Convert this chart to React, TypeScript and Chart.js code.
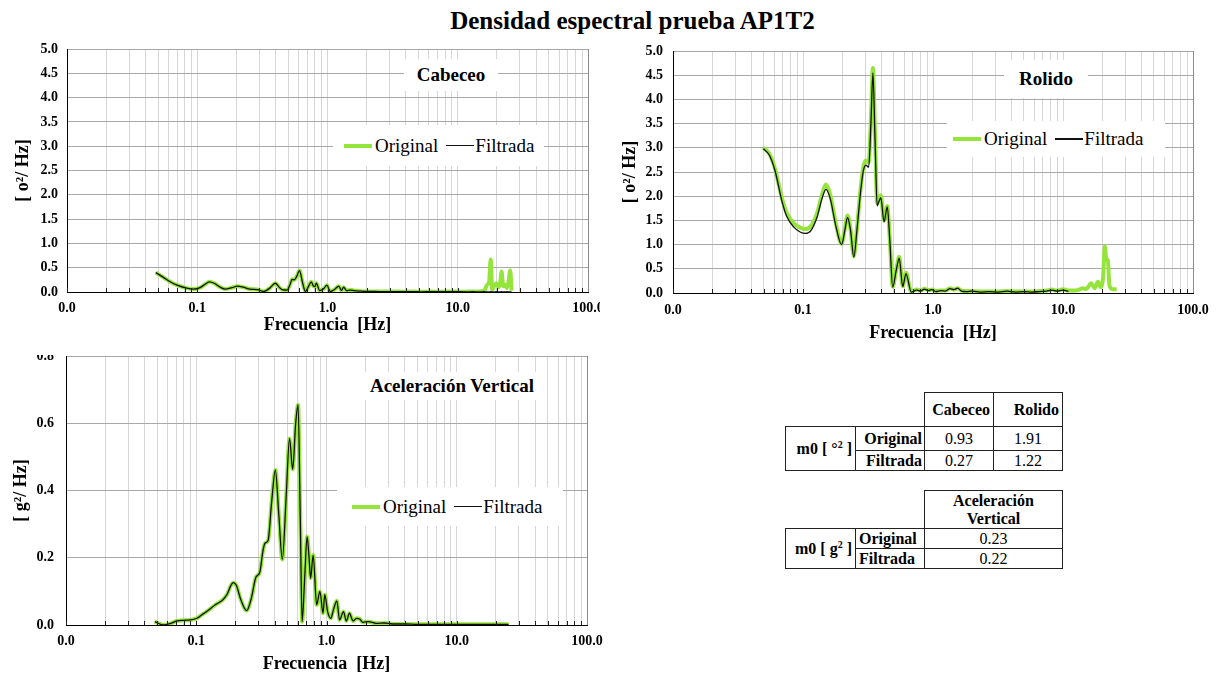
import React, { useEffect, useRef } from 'react';
import { Chart, registerables } from 'chart.js';

Chart.register(...registerables);

const SERIF = '"Liberation Serif", "Times New Roman", serif';
const GREEN = '#95e43c';
const BLACK = '#111111';

// ---------- X axis (log, 0.01 .. 100) ----------
const xDecades = [0.01, 0.1, 1, 10, 100];
const xDecadeLabels = ['0.0', '0.1', '1.0', '10.0', '100.0'];
const xMultipliers = [1, 2, 3, 4, 5, 6, 7, 8, 9];

// ---------- Cabeceo ----------
const cabFreq = [0.048, 0.055, 0.062, 0.07, 0.083, 0.094, 0.105, 0.115, 0.124, 0.135, 0.15, 0.164, 0.185, 0.204, 0.225, 0.255, 0.29, 0.324, 0.36, 0.398, 0.425, 0.448, 0.49, 0.515, 0.535, 0.556, 0.58, 0.61, 0.64, 0.677, 0.71, 0.75, 0.78, 0.8, 0.82, 0.87, 0.93, 0.99, 1.05, 1.13, 1.22, 1.28, 1.33, 1.4, 1.5, 1.6, 1.75, 2.0, 2.3, 2.7, 3.2, 3.8, 4.5, 5.3, 6.2, 7.3, 8.5, 10, 11.5, 13, 14.5, 16, 16.8, 17.4, 17.9, 18.4, 19, 19.8, 20.6, 21.2, 21.7, 22.3, 23, 23.8, 24.5, 25.3, 25.9];
const cabOriginal = [0.40, 0.30, 0.21, 0.14, 0.08, 0.06, 0.09, 0.16, 0.21, 0.18, 0.10, 0.06, 0.09, 0.12, 0.10, 0.06, 0.05, 0.01, 0.08, 0.18, 0.10, 0.05, 0.04, 0.15, 0.26, 0.25, 0.32, 0.44, 0.22, 0.01, 0.10, 0.21, 0.12, 0.11, 0.18, 0.03, 0.06, 0.14, 0.01, 0.05, 0.12, 0.03, 0.10, 0.03, 0.04, 0.03, 0.02, 0.01, 0.012, 0.008, 0.01, 0.007, 0.008, 0.006, 0.008, 0.007, 0.009, 0.008, 0.007, 0.01, 0.01, 0.03, 0.15, 0.2, 0.67, 0.05, 0.12, 0.18, 0.1, 0.2, 0.42, 0.12, 0.15, 0.08, 0.2, 0.44, 0.03];
const cabFiltrada = [0.40, 0.30, 0.21, 0.14, 0.08, 0.06, 0.09, 0.16, 0.21, 0.18, 0.10, 0.06, 0.09, 0.12, 0.10, 0.06, 0.05, 0.01, 0.08, 0.18, 0.10, 0.05, 0.04, 0.15, 0.26, 0.25, 0.32, 0.44, 0.22, 0.01, 0.10, 0.21, 0.12, 0.11, 0.18, 0.03, 0.06, 0.14, 0.01, 0.05, 0.12, 0.03, 0.10, 0.03, 0.04, 0.03, 0.02, 0.01, 0.01, 0.005, 0.008, 0.005, 0.006, 0.004, 0.006, 0.005, 0.007, 0.005, 0.004, 0.005, 0.004, 0.005, 0.004, 0.004, 0.005, 0.004, 0.004, 0.005, 0.004, 0.004, 0.005, 0.004, 0.004, 0.005, 0.004, 0.004, 0.004];

// ---------- Rolido ----------
const rolFreq = [0.0495, 0.055, 0.061, 0.0685, 0.075, 0.085, 0.095, 0.104, 0.115, 0.128, 0.14, 0.15, 0.162, 0.18, 0.198, 0.21, 0.22, 0.232, 0.246, 0.26, 0.275, 0.29, 0.305, 0.32, 0.333, 0.345, 0.358, 0.372, 0.385, 0.397, 0.42, 0.445, 0.465, 0.49, 0.52, 0.55, 0.585, 0.62, 0.68, 0.75, 0.8, 0.86, 0.92, 0.98, 1.05, 1.15, 1.25, 1.35, 1.45, 1.55, 1.65, 1.8, 2.0, 2.3, 2.7, 3.2, 3.7, 4.3, 5.0, 5.8, 6.6, 7.5, 8.2, 9.0, 10.0, 11.0, 12.0, 13.0, 14.2, 15.0, 16.5, 17.5, 18.6, 19.5, 20.3, 21.0, 21.5, 22.1, 22.8, 24.0, 25.9];
const rolOriginal = [3.0, 2.88, 2.56, 1.98, 1.65, 1.44, 1.35, 1.32, 1.38, 1.64, 2.03, 2.24, 2.03, 1.4, 1.02, 1.33, 1.6, 1.32, 0.76, 1.33, 2.05, 2.58, 2.74, 2.7, 3.6, 4.65, 3.3, 1.85, 1.95, 2.02, 1.5, 1.8, 1.12, 0.13, 0.46, 0.75, 0.14, 0.42, 0.03, 0.07, 0.05, 0.09, 0.06, 0.07, 0.04, 0.05, 0.05, 0.1, 0.07, 0.1, 0.05, 0.04, 0.04, 0.03, 0.03, 0.03, 0.04, 0.03, 0.03, 0.03, 0.04, 0.05, 0.07, 0.05, 0.08, 0.05, 0.05, 0.06, 0.1, 0.08, 0.2, 0.1, 0.23, 0.12, 0.3, 0.96, 0.7, 0.68, 0.15, 0.08, 0.08];
const rolFiltrada = [2.98, 2.85, 2.52, 1.92, 1.58, 1.36, 1.26, 1.23, 1.29, 1.56, 1.95, 2.14, 1.95, 1.35, 1.0, 1.3, 1.56, 1.3, 0.74, 1.3, 2.0, 2.5, 2.64, 2.6, 3.5, 4.55, 3.2, 1.8, 1.9, 1.97, 1.47, 1.78, 1.1, 0.12, 0.45, 0.72, 0.13, 0.4, 0.02, 0.06, 0.04, 0.08, 0.05, 0.07, 0.03, 0.05, 0.04, 0.09, 0.07, 0.1, 0.04, 0.03, 0.04, 0.02, 0.03, 0.02, 0.04, 0.02, 0.03, 0.02, 0.03, 0.04, 0.06, 0.04, 0.06, 0.03, null, null, null, null, null, null, null, null, null, null, null, null, null, null, null];

// ---------- Aceleración Vertical ----------
const accFreq = [0.048, 0.056, 0.063, 0.071, 0.08, 0.0895, 0.101, 0.11, 0.12, 0.14, 0.161, 0.173, 0.183, 0.192, 0.203, 0.22, 0.244, 0.265, 0.287, 0.307, 0.325, 0.337, 0.356, 0.38, 0.405, 0.43, 0.458, 0.49, 0.52, 0.55, 0.58, 0.605, 0.63, 0.65, 0.68, 0.71, 0.735, 0.755, 0.79, 0.84, 0.89, 0.94, 0.97, 1.02, 1.08, 1.13, 1.2, 1.26, 1.35, 1.42, 1.5, 1.6, 1.7, 1.8, 1.9, 2.1, 2.4, 2.8, 3.2, 4, 5, 7, 10, 15, 20, 25];
const accOriginal = [0.01, 0.0, 0.004, 0.012, 0.014, 0.015, 0.02, 0.03, 0.04, 0.06, 0.076, 0.092, 0.115, 0.126, 0.118, 0.075, 0.043, 0.08, 0.142, 0.156, 0.22, 0.243, 0.251, 0.37, 0.461, 0.33, 0.195, 0.38, 0.555, 0.463, 0.6, 0.655, 0.3, 0.01, 0.14, 0.263, 0.2, 0.139, 0.208, 0.06, 0.1, 0.035, 0.09, 0.04, 0.02, 0.045, 0.072, 0.015, 0.04, 0.012, 0.035, 0.012, 0.02, 0.018, 0.008, 0.01, 0.005, 0.006, 0.003, 0.003, 0.002, 0.002, 0.002, 0.002, 0.002, 0.002];
const accFiltrada = [0.01, 0.0, 0.004, 0.012, 0.014, 0.015, 0.02, 0.03, 0.04, 0.06, 0.076, 0.092, 0.115, 0.126, 0.118, 0.075, 0.043, 0.08, 0.142, 0.156, 0.22, 0.243, 0.251, 0.37, 0.461, 0.33, 0.195, 0.38, 0.555, 0.463, 0.6, 0.655, 0.3, 0.01, 0.14, 0.263, 0.2, 0.139, 0.208, 0.06, 0.1, 0.035, 0.09, 0.04, 0.02, 0.045, 0.072, 0.015, 0.04, 0.012, 0.035, 0.012, 0.02, 0.018, 0.008, 0.01, 0.005, 0.006, 0.003, 0.003, 0.002, 0.002, 0.002, 0.002, 0.002, 0.002];

// ---------- Tables ----------
const m0Columns = ['Cabeceo', 'Rolido'];
const m0Rows = ['Original', 'Filtrada'];
const m0AngleValues = [['0.93', '1.91'], ['0.27', '1.22']];
const m0AccValues = ['0.23', '0.22'];

const X_GRID_VALUES: number[] = [];
xDecades.slice(0, -1).forEach((d) => xMultipliers.forEach((m) => X_GRID_VALUES.push(+(d * m).toPrecision(6))));
X_GRID_VALUES.push(xDecades[xDecades.length - 1]);

function xLabel(v: number): string {
  for (let i = 0; i < xDecades.length; i++) {
    if (Math.abs(v / xDecades[i] - 1) < 1e-6) return xDecadeLabels[i];
  }
  return '';
}

// tick marks pointing into the plot area + darker right frame line
const innerTicksPlugin = {
  id: 'innerTicks',
  afterDraw(chart: any) {
    const { ctx, chartArea, scales } = chart;
    const x = scales.x;
    ctx.save();
    ctx.strokeStyle = '#222';
    ctx.lineWidth = 1;
    ctx.beginPath();
    X_GRID_VALUES.forEach((v) => {
      const px = Math.round(x.getPixelForValue(v)) + 0.5;
      ctx.moveTo(px, chartArea.bottom);
      ctx.lineTo(px, chartArea.bottom - 4);
    });
    ctx.stroke();
    ctx.strokeStyle = '#8c8c8c';
    ctx.beginPath();
    const rx = Math.round(chartArea.right) + 0.5;
    ctx.moveTo(rx, chartArea.top);
    ctx.lineTo(rx, chartArea.bottom);
    ctx.stroke();
    ctx.restore();
  },
};

type Spec = {
  left: number; top: number; width: number; height: number;
  freq: number[]; original: (number | null)[]; filtrada: (number | null)[];
  yMax: number; yStep: number; yTitle: string;
  padTop: number; padRight: number;
  yAxisWidth: number; xAxisHeight: number;
  yTitlePad: number; yTickPad: number; xTickPad: number; xTitlePad: number;
};

function SpectrumChart({ spec }: { spec: Spec }) {
  const ref = useRef<HTMLCanvasElement>(null);
  useEffect(() => {
    const canvas = ref.current;
    if (!canvas) return;
    const pts = (ys: (number | null)[]) => spec.freq.map((f, i) => ({ x: f, y: ys[i] }));
    const tickFont = { family: SERIF, size: 14, weight: 'bold' as const };
    const titleFont = { family: SERIF, size: 18, weight: 'bold' as const };
    const chart = new Chart(canvas, {
      type: 'line',
      data: {
        datasets: [
          {
            label: 'Original', data: pts(spec.original) as any, borderColor: GREEN, backgroundColor: GREEN,
            borderWidth: 4, pointRadius: 0, cubicInterpolationMode: 'monotone', order: 2, spanGaps: false,
          },
          {
            label: 'Filtrada', data: pts(spec.filtrada) as any, borderColor: BLACK, backgroundColor: BLACK,
            borderWidth: 1.3, pointRadius: 0, cubicInterpolationMode: 'monotone', order: 1, spanGaps: false,
          },
        ],
      },
      options: {
        responsive: false,
        animation: false,
        devicePixelRatio: 1,
        layout: { padding: { left: 0, top: spec.padTop, right: spec.padRight, bottom: 0 } },
        plugins: { legend: { display: false }, tooltip: { enabled: false }, title: { display: false } },
        scales: {
          x: {
            type: 'logarithmic',
            min: 0.01,
            max: 100,
            afterBuildTicks: (s: any) => { s.ticks = X_GRID_VALUES.map((v) => ({ value: v })); },
            afterFit: (s: any) => { s.height = spec.xAxisHeight; s.paddingLeft = 0; s.paddingRight = 0; },
            ticks: {
              autoSkip: false, maxRotation: 0, minRotation: 0, padding: spec.xTickPad, color: '#000', font: tickFont,
              callback: (v: any) => xLabel(Number(v)),
            },
            grid: { color: '#d6d6d6', lineWidth: 1, drawTicks: false },
            border: { color: '#000', width: 1 },
            title: {
              display: true, text: 'Frecuencia  [Hz]', color: '#000', font: titleFont,
              padding: { top: 0, bottom: spec.xTitlePad },
            },
          },
          y: {
            min: 0,
            max: spec.yMax,
            afterFit: (s: any) => { s.width = spec.yAxisWidth; s.paddingTop = 0; s.paddingBottom = 0; },
            ticks: {
              stepSize: spec.yStep, padding: spec.yTickPad, color: '#000', font: tickFont,
              callback: (v: any) => Number(v).toFixed(1),
            },
            grid: { color: '#a8a8a8', lineWidth: 1, drawTicks: false },
            border: { color: '#000', width: 1 },
            title: {
              display: true, text: spec.yTitle, color: '#000', font: titleFont,
              padding: { top: spec.yTitlePad, bottom: 0 },
            },
          },
        },
      } as any,
      plugins: [innerTicksPlugin],
    });
    return () => chart.destroy();
  }, [spec]);
  return (
    <canvas
      ref={ref}
      width={spec.width}
      height={spec.height}
      style={{ position: 'absolute', left: spec.left, top: spec.top, width: spec.width, height: spec.height }}
    />
  );
}

const cabSpec: Spec = {
  left: 0, top: 40, width: 600, height: 300,
  freq: cabFreq, original: cabOriginal, filtrada: cabFiltrada,
  yMax: 5, yStep: 0.5, yTitle: '[ o²/ Hz]',
  padTop: 9, padRight: 12, yAxisWidth: 67, xAxisHeight: 48,
  yTitlePad: 13, yTickPad: 9, xTickPad: 8, xTitlePad: 4,
};
const rolSpec: Spec = {
  left: 610, top: 40, width: 611, height: 310,
  freq: rolFreq, original: rolOriginal, filtrada: rolFiltrada,
  yMax: 5, yStep: 0.5, yTitle: '[ o²/ Hz]',
  padTop: 11, padRight: 28, yAxisWidth: 63, xAxisHeight: 57,
  yTitlePad: 10, yTickPad: 10, xTickPad: 9, xTitlePad: 6,
};
const accSpec: Spec = {
  left: 0, top: 340, width: 610, height: 340,
  freq: accFreq, original: accOriginal, filtrada: accFiltrada,
  yMax: 0.8, yStep: 0.2, yTitle: '[ g²/ Hz]',
  padTop: 16, padRight: 23, yAxisWidth: 66, xAxisHeight: 55,
  yTitlePad: 11, yTickPad: 12, xTickPad: 8, xTitlePad: 5,
};

function PanelTitle({ text, left, top, width, height }: { text: string; left: number; top: number; width: number; height: number }) {
  return (
    <div style={{
      position: 'absolute', left, top, width, height, background: '#fff', display: 'flex', alignItems: 'center',
      justifyContent: 'center', fontFamily: SERIF, fontWeight: 'bold', fontSize: 19, color: '#000', whiteSpace: 'nowrap',
    }}>{text}</div>
  );
}

function Legend({ left, top, width, height, padLeft }: { left: number; top: number; width: number; height: number; padLeft: number }) {
  return (
    <div style={{
      position: 'absolute', left, top, width, height, background: '#fff', display: 'flex', alignItems: 'center',
      paddingLeft: padLeft, boxSizing: 'border-box', fontFamily: SERIF, fontSize: 19, color: '#000', whiteSpace: 'nowrap',
    }}>
      <span style={{ display: 'inline-block', width: 28, height: 4, background: GREEN, marginRight: 3 }} />
      <span>Original</span>
      <span style={{ display: 'inline-block', width: 28, height: 1.3, background: BLACK, marginLeft: 8, marginRight: 1 }} />
      <span>Filtrada</span>
    </div>
  );
}

function Cell({ x, y, w, h, children, align = 'center', bold = false, pr = 0, pl = 0 }: any) {
  return (
    <div style={{
      position: 'absolute', left: x, top: y, width: w + 1, height: h + 1, boxSizing: 'border-box',
      border: '1px solid #222', display: 'flex', alignItems: 'center',
      justifyContent: align === 'right' ? 'flex-end' : align === 'left' ? 'flex-start' : 'center',
      paddingRight: pr, paddingLeft: pl, fontFamily: SERIF, fontSize: 16, fontWeight: bold ? 'bold' : 'normal',
      color: '#000', lineHeight: 1.1, textAlign: 'center', whiteSpace: 'nowrap', background: '#fff',
    }}>{children}</div>
  );
}

export default function App() {
  return (
    <div style={{ position: 'fixed', left: 0, top: 0, width: 1221, height: 680, background: '#fff', overflow: 'hidden' }}>
      <div style={{
        position: 'absolute', left: 0, top: 7, width: 1265, textAlign: 'center', fontFamily: SERIF,
        fontWeight: 'bold', fontSize: 25, color: '#000', whiteSpace: 'nowrap',
      }}>Densidad espectral prueba AP1T2</div>

      <SpectrumChart spec={cabSpec} />
      <SpectrumChart spec={rolSpec} />
      <SpectrumChart spec={accSpec} />

      {/* partially hidden top label of the lower chart */}
      <div style={{ position: 'absolute', left: 20, top: 340, width: 44, height: 15, background: '#fff' }} />

      <PanelTitle text="Cabeceo" left={404} top={59} width={94} height={32} />
      <PanelTitle text="Rolido" left={1004} top={60} width={84} height={38} />
      <PanelTitle text="Aceleración Vertical" left={360} top={372} width={184} height={28} />

      <Legend left={333} top={125} width={211} height={41} padLeft={11} />
      <Legend left={947} top={121} width={218} height={36} padLeft={6} />
      <Legend left={337} top={487} width={226} height={39} padLeft={15} />

      {/* m0 table (angles) */}
      <Cell x={924} y={392} w={69} h={34} bold align="right" pr={3}>{m0Columns[0]}</Cell>
      <Cell x={993} y={392} w={69} h={34} bold align="right" pr={3}>{m0Columns[1]}</Cell>
      <Cell x={785} y={426} w={70} h={44} bold align="right" pr={3}><span>m0 [ °<sup style={{ fontSize: 10 }}>2</sup> ]</span></Cell>
      <Cell x={855} y={426} w={69} h={24} bold align="right" pr={2}>{m0Rows[0]}</Cell>
      <Cell x={855} y={450} w={69} h={20} bold align="right" pr={2}>{m0Rows[1]}</Cell>
      <Cell x={924} y={426} w={69} h={24}>{m0AngleValues[0][0]}</Cell>
      <Cell x={993} y={426} w={69} h={24}>{m0AngleValues[0][1]}</Cell>
      <Cell x={924} y={450} w={69} h={20}>{m0AngleValues[1][0]}</Cell>
      <Cell x={993} y={450} w={69} h={20}>{m0AngleValues[1][1]}</Cell>

      {/* m0 table (acceleration) */}
      <Cell x={924} y={490} w={138} h={38} bold><span>Aceleración<br />Vertical</span></Cell>
      <Cell x={785} y={528} w={70} h={40} bold align="right" pr={3}><span>m0 [ g<sup style={{ fontSize: 10 }}>2</sup> ]</span></Cell>
      <Cell x={855} y={528} w={69} h={20} bold align="left" pl={3}>{m0Rows[0]}</Cell>
      <Cell x={855} y={548} w={69} h={20} bold align="left" pl={3}>{m0Rows[1]}</Cell>
      <Cell x={924} y={528} w={138} h={20}>{m0AccValues[0]}</Cell>
      <Cell x={924} y={548} w={138} h={20}>{m0AccValues[1]}</Cell>
    </div>
  );
}
